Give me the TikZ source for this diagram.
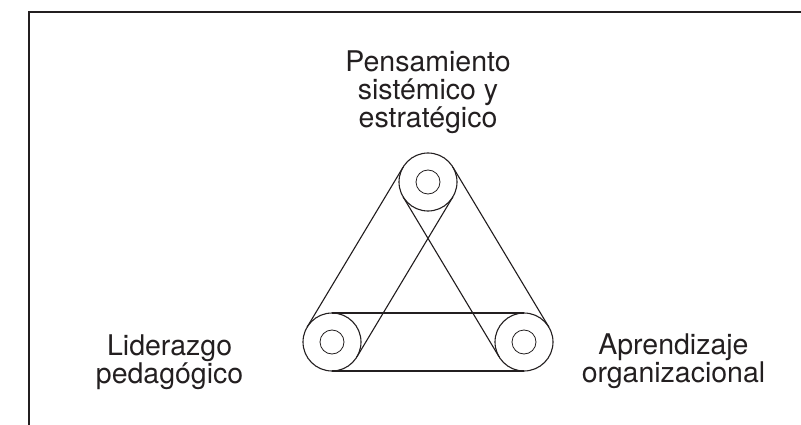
\documentclass[tikz,border=0pt]{standalone}
\usepackage{fontspec}
\setmainfont{TeX Gyre Heros}
\usepackage{tikz}
\usetikzlibrary{positioning,calc}
\definecolor{ink}{RGB}{35,31,32}

\begin{document}
\begin{tikzpicture}[x=1pt,y=-1pt,
		pulley/.style={circle,draw=ink,line width=1.1pt,minimum size=58pt,inner sep=0pt},
		hub/.style={circle,draw=ink,line width=0.8pt,minimum size=24pt,inner sep=0pt},
		belt/.style={draw=ink,line width=1.1pt},
		lbl/.style={align=center,inner sep=0pt,text=ink,font=\fontsize{28.5}{28}\selectfont}]
		\useasboundingbox (0,0) rectangle (801,425);
		\draw[ink,line width=2.5pt] (801,12)--(29,12)--(29,425);
		
		\node[pulley] (pen) at (428,182) {};
		\node[pulley] (lid) at (332,342) {};
		\node[pulley] (apr) at (524,342) {};
		\node[hub] (pen-hub) at (pen) {};
		\node[hub] (lid-hub) at (lid) {};
		\node[hub] (apr-hub) at (apr) {};
		
		\foreach \a/\b in {lid/pen,pen/apr,apr/lid}{
			\draw[belt] ($(\a.center)!29pt!90:(\b.center)$)--($(\b.center)!29pt!-90:(\a.center)$);
			\draw[belt] ($(\a.center)!29pt!-90:(\b.center)$)--($(\b.center)!29pt!90:(\a.center)$);
		}
		
		\node[lbl,above=19pt of pen] (pen-lbl) {Pensamiento\\sistémico y\\estratégico};
		\node[lbl,left=59pt of lid,yshift=-20pt] (lid-lbl) {Liderazgo\\pedagógico};
		\node[lbl,right=28pt of apr,yshift=-19pt] (apr-lbl) {Aprendizaje\\organizacional};
	\end{tikzpicture}
\end{document}
